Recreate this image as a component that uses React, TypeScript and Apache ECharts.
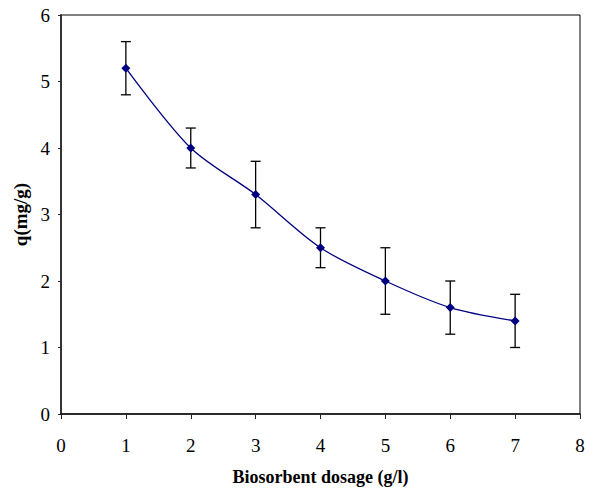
import React, { useEffect, useRef } from "react";
import * as echarts from "echarts";

const xValues = [1, 2, 3, 4, 5, 6, 7];
const qValues = [5.2, 4.0, 3.3, 2.5, 2.0, 1.6, 1.4];
const errLow = [4.8, 3.7, 2.8, 2.2, 1.5, 1.2, 1.0];
const errHigh = [5.6, 4.3, 3.8, 2.8, 2.5, 2.0, 1.8];
const xTitle = "Biosorbent dosage (g/l)";
const yTitle = "q(mg/g)";

export default function App() {
  const ref = useRef<HTMLDivElement>(null);
  useEffect(() => {
    if (!ref.current) return;
    const chart = echarts.init(ref.current, null, { renderer: "svg" });
    const font = "'Liberation Serif', 'Times New Roman', serif";
    const lineData = xValues.map((x, i) => [x, qValues[i]]);
    const errData = xValues.map((x, i) => [x, errLow[i], errHigh[i]]);
    chart.setOption({
      animation: false,
      backgroundColor: "#fff",
      grid: {
        left: 61,
        right: 11,
        top: 15,
        bottom: 80,
        show: true,
        borderColor: "#000",
        borderWidth: 1,
      },
      xAxis: {
        type: "value",
        min: 0,
        max: 8,
        interval: 1,
        name: xTitle,
        nameLocation: "middle",
        nameGap: 54,
        nameTextStyle: { fontFamily: font, fontSize: 18, fontWeight: "bold", color: "#000" },
        axisLine: { show: true, onZero: false, lineStyle: { color: "#111", width: 1.5 } },
        axisTick: { show: true, inside: false, length: 5, lineStyle: { color: "#222" } },
        axisLabel: { fontFamily: font, fontSize: 19, color: "#000", margin: 22 },
        splitLine: { show: false },
      },
      yAxis: {
        type: "value",
        min: 0,
        max: 6,
        interval: 1,
        name: yTitle,
        nameLocation: "middle",
        nameGap: 30,
        nameRotate: 90,
        nameTextStyle: { fontFamily: font, fontSize: 19, fontWeight: "bold", color: "#000" },
        axisLine: { show: true, onZero: false, lineStyle: { color: "#333", width: 2 } },
        axisTick: { show: true, inside: false, length: 3, lineStyle: { color: "#222" } },
        axisLabel: { fontFamily: font, fontSize: 19, color: "#000", margin: 11 },
        splitLine: { show: false },
      },
      series: [
        {
          type: "custom",
          data: errData,
          z: 2,
          renderItem: (params: any, api: any) => {
            const x = api.value(0);
            const lo = api.coord([x, api.value(1)]);
            const hi = api.coord([x, api.value(2)]);
            const hw = 5;
            const style = { stroke: "#000", lineWidth: 1.3 };
            return {
              type: "group",
              children: [
                { type: "line", shape: { x1: lo[0], y1: lo[1], x2: hi[0], y2: hi[1] }, style },
                { type: "line", shape: { x1: hi[0] - hw, y1: hi[1], x2: hi[0] + hw, y2: hi[1] }, style },
                { type: "line", shape: { x1: lo[0] - hw, y1: lo[1], x2: lo[0] + hw, y2: lo[1] }, style },
              ],
            };
          },
        },
        {
          type: "line",
          data: lineData,
          smooth: 0.3,
          z: 3,
          symbol: "diamond",
          symbolSize: 9,
          itemStyle: { color: "#000080" },
          lineStyle: { color: "#000080", width: 1.3 },
        },
      ],
    });
    return () => chart.dispose();
  }, []);
  return <div ref={ref} style={{ width: 591, height: 494, position: "absolute", left: 0, top: 0 }} />;
}
